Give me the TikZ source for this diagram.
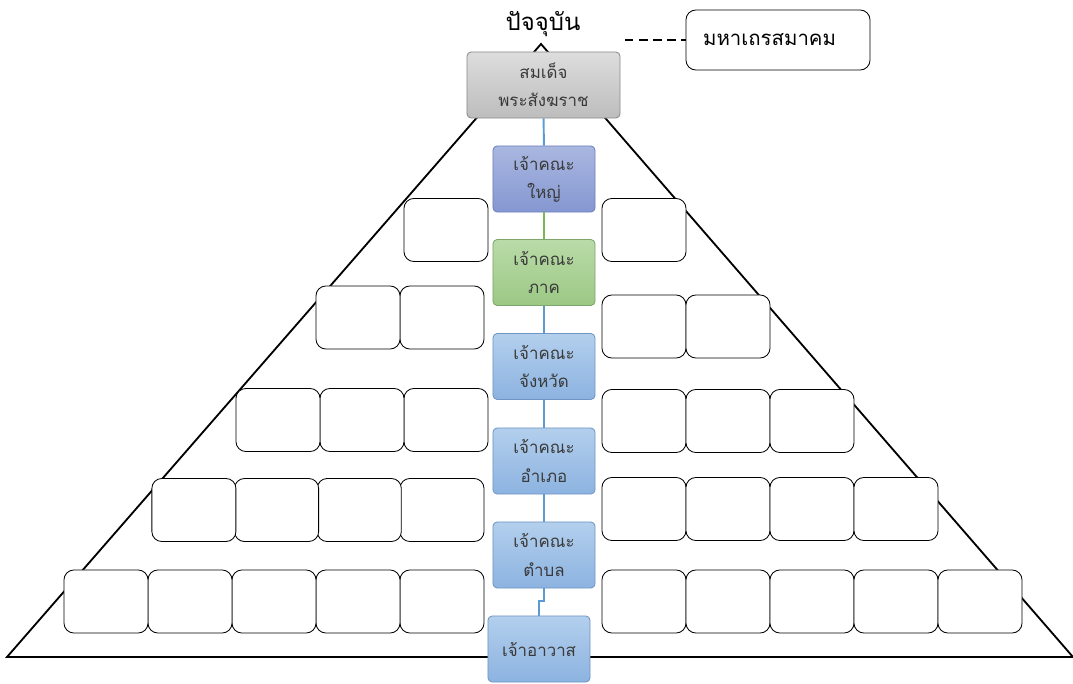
\documentclass[tikz,border=0pt]{standalone}
\usepackage{fontspec}
\setmainfont[Script=Thai]{Loma}
\definecolor{grT}{HTML}{DDDDDD}
\definecolor{grB}{HTML}{BDBDBD}
\definecolor{grD}{HTML}{8A8A8A}
\definecolor{viT}{HTML}{A9B7E0}
\definecolor{viB}{HTML}{8597D1}
\definecolor{viD}{HTML}{6E80B8}
\definecolor{gnT}{HTML}{BADBA8}
\definecolor{gnB}{HTML}{9BC885}
\definecolor{gnD}{HTML}{7EA56B}
\definecolor{buT}{HTML}{B3CFED}
\definecolor{buB}{HTML}{8CB3E0}
\definecolor{buD}{HTML}{6F95C2}
\definecolor{txt}{HTML}{3A3A3A}
\definecolor{linkB}{HTML}{5B9BD5}
\definecolor{linkG}{HTML}{7DB653}
\tikzset{
  rank/.style={rounded corners=3pt, minimum width=2.55cm, minimum height=1.65cm,
    inner sep=0, align=center, text=txt, line width=.6pt,
    font=\fontsize{12}{20}\selectfont},
  greybox/.style={rank, draw=grD, top color=grT, bottom color=grB},
  violetbox/.style={rank, draw=viD, top color=viT, bottom color=viB},
  greenbox/.style={rank, draw=gnD, top color=gnT, bottom color=gnB},
  bluebox/.style={rank, draw=buD, top color=buT, bottom color=buB},
  blank/.style={draw, rounded corners=7pt, fill=white, minimum width=2.1cm,
    minimum height=1.575cm, inner sep=0, line width=.6pt},
  link/.style={line width=1.4pt}
}

\begin{document}
\begin{tikzpicture}[x=0.025cm, y=-0.025cm]
\useasboundingbox (0,0) rectangle (1073,684);
\draw[line width=1.3pt] (7,657) -- (541,44) -- (1073,657) -- cycle;
\foreach \r/\y/\xr/\dx in {1/230/446/84, 2/317.5/442/84, 3/420/446/84, 4/510/442/82.7, 5/601.5/442/84} {
  \foreach \k in {1,...,\r} {
    \node[blank] (L\r\k) at ({\xr-\dx*(\k-1)},\y) {};
  }
}
\foreach \r/\y in {1/230, 2/326.5, 3/421, 4/509, 5/601.5} {
  \foreach \k in {1,...,\r} {
    \node[blank] (R\r\k) at ({644+84*(\k-1)},\y) {};
  }
}
\node[greybox, minimum width=3.825cm] (somdet) at (543.5,85) {สมเด็จ\\พระสังฆราช};
\node[violetbox] (yai) at (544,179) {เจ้าคณะ\\ใหญ่};
\node[greenbox] (phak) at (544,272.5) {เจ้าคณะ\\ภาค};
\node[bluebox] (changwat) at (544,366.5) {เจ้าคณะ\\จังหวัด};
\node[bluebox] (amphoe) at (544,461) {เจ้าคณะ\\อำเภอ};
\node[bluebox] (tambon) at (544,555) {เจ้าคณะ\\ตำบล};
\node[bluebox] (abbot) at (539,649) {เจ้าอาวาส};
\draw[link, linkB] (somdet) -- (yai);
\draw[link, linkG] (yai) -- (phak);
\draw[link, linkB] (phak) -- (changwat);
\draw[link, linkB] (changwat) -- (amphoe);
\draw[link, linkB] (amphoe) -- (tambon);
\draw[link, linkB] (tambon.south) -- ++(0,13) -| (abbot.north);
\node[font=\fontsize{17}{20}\selectfont] (title) at (543,24) {ปัจจุบัน};
\node[blank, minimum width=4.6cm, minimum height=1.5cm,
  font=\fontsize{14.5}{18}\selectfont] (maha) at (778,40) {มหาเถรสมาคม\hspace*{12pt}};
\coordinate (dashend) at (625,40);
\draw[line width=1.2pt, dash pattern=on 6pt off 4pt] (dashend) -- (maha.west);
\end{tikzpicture}
\end{document}
